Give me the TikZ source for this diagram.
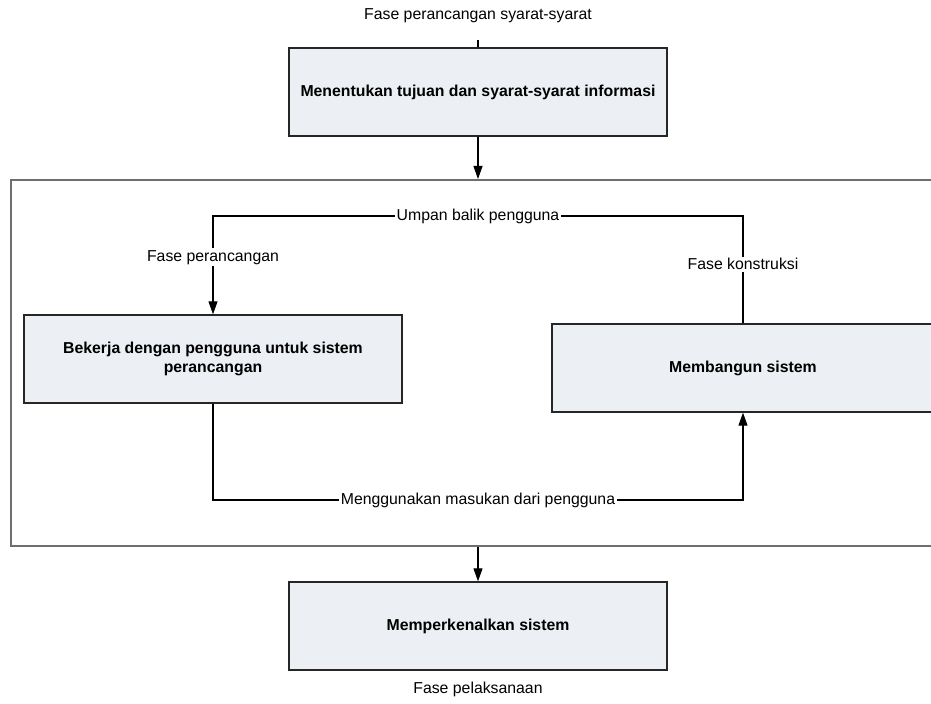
\documentclass[tikz,border=0pt]{standalone}
\usepackage{fontspec}
\setmainfont{Liberation Sans}
\usetikzlibrary{arrows.meta,positioning}
\definecolor{boxfill}{RGB}{236,239,244}
\definecolor{framegray}{RGB}{110,110,110}

\begin{document}
\begin{tikzpicture}[x=0.02cm, y=-0.02cm, font=\fontsize{9}{11}\selectfont,
    phase/.style = {draw=black!85, line width=0.8pt, fill=boxfill, minimum width=7.56cm,
                    minimum height=1.76cm, align=center, font=\fontsize{9}{11}\selectfont\bfseries},
    group/.style = {draw=framegray, line width=1.2pt, minimum width=18.8cm, minimum height=7.32cm, inner sep=0pt},
    lbl/.style = {fill=white, inner sep=1pt},
    link/.style = {line width=0.6pt},
    arr/.style = {link, -{Triangle[width=0.18cm,length=0.26cm]}}]
  \useasboundingbox (0,0) rectangle (931,704);

  % outer frame of the iterative part
  \node[group] (grp) at (481,363) {};

  \node[phase] (tujuan) at (478,92)  {Menentukan tujuan dan syarat-syarat informasi};
  \node[phase] (kerja)  at (213,359) {Bekerja dengan pengguna untuk sistem\\perancangan};
  \node[phase, minimum width=7.64cm] (bangun) at (743,368) {Membangun sistem};
  \node[phase] (kenal)  at (478,626) {Memperkenalkan sistem};

  \node (fase1) [above=0.36cm of tujuan] {Fase perancangan syarat-syarat};
  \node (fase4) [below=0.1cm of kenal]   {Fase pelaksanaan};

  \coordinate (lead)  at (478,40);
  \coordinate (fbtop) at (0,216);
  \coordinate (fbbot) at (0,500);

  \draw[link] (lead) -- (tujuan.north);
  \draw[arr] (tujuan) -- (tujuan |- grp.north);
  \draw[arr] (grp.south -| kenal) -- (kenal);

  % user feedback loop
  \draw[arr] (bangun.north) -- (bangun.north |- fbtop) -- (kerja.north |- fbtop) -- (kerja.north);
  \draw[arr] (kerja.south) -- (kerja.south |- fbbot) -- (bangun.south |- fbbot) -- (bangun.south);

  % labels on top of the lines
  \path (bangun.north) -- node[lbl, pos=0.55] (konstr) {Fase konstruksi} (bangun.north |- fbtop);
  \path (bangun.north |- fbtop) -- node[lbl] (umpan) {Umpan balik pengguna} (kerja.north |- fbtop);
  \path (kerja.north |- fbtop) -- node[lbl, pos=0.42] (rancang) {Fase perancangan} (kerja.north);
  \path (kerja.south |- fbbot) -- node[lbl] (masuk) {Menggunakan masukan dari pengguna} (bangun.south |- fbbot);
\end{tikzpicture}
\end{document}
